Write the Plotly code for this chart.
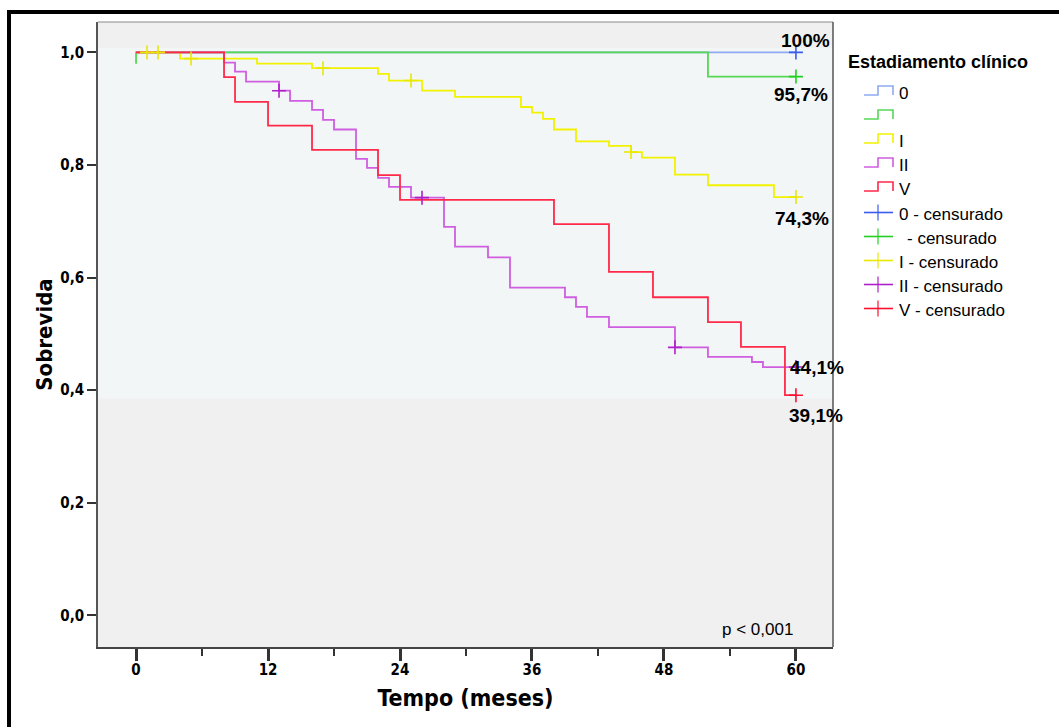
import plotly.graph_objects as go

# ---- Kaplan-Meier survival by clinical stage (months) ----
legend_labels = ["0", "", "I", "II", "V"]
censor_labels = ["0 - censurado", "- censurado", "I - censurado", "II - censurado", "V - censurado"]

# stage 0
t_st0 = [0, 60]
s_st0 = [1.0, 1.0]
c_t_st0 = [60]
c_s_st0 = [1.0]

# stage I
t_st1 = [0, 0, 52, 60]
s_st1 = [0.98, 1.0, 0.957, 0.957]
c_t_st1 = [60]
c_s_st1 = [0.957]

# stage II
t_st2 = [0, 4, 11, 16, 22, 23, 26, 29, 35, 36, 37, 38, 40, 43, 45, 46, 49, 52, 58, 60]
s_st2 = [1.0, 0.989, 0.980, 0.972, 0.962, 0.950, 0.932, 0.921, 0.903, 0.893, 0.882,
         0.863, 0.842, 0.834, 0.823, 0.813, 0.783, 0.764, 0.743, 0.743]
c_t_st2 = [1, 2, 5, 17, 25, 45, 60]
c_s_st2 = [1.0, 1.0, 0.989, 0.972, 0.950, 0.823, 0.743]

# stage III
t_st3 = [0, 8, 9, 10, 13, 14, 16, 17, 18, 20, 21, 22, 23, 25, 28, 29, 32, 34, 39, 40,
         41, 43, 49, 52, 56, 57, 60]
s_st3 = [1.0, 0.982, 0.966, 0.948, 0.932, 0.914, 0.898, 0.880, 0.863, 0.811, 0.795,
         0.777, 0.761, 0.742, 0.690, 0.655, 0.636, 0.582, 0.565, 0.548, 0.530, 0.512,
         0.476, 0.459, 0.450, 0.441, 0.441]
c_t_st3 = [13, 26, 49, 60]
c_s_st3 = [0.932, 0.742, 0.476, 0.441]

# stage IV
t_st4 = [0, 8, 9, 12, 16, 22, 24, 38, 43, 47, 52, 55, 59, 60]
s_st4 = [1.0, 0.956, 0.912, 0.870, 0.827, 0.782, 0.738, 0.695, 0.610, 0.565, 0.521,
         0.477, 0.391, 0.391]
c_t_st4 = [60]
c_s_st4 = [0.391]

# final survival labels, shown at the end of each curve
end_values = [1.0, 0.957, 0.743, 0.441, 0.391]
end_shift = [(10, 12), (5, -18), (6, -21), (21, 0), (20, -20)]

x_ticks = [0, 12, 24, 36, 48, 60]
y_ticks = [0.0, 0.2, 0.4, 0.6, 0.8, 1.0]

line_colors = ["#8eaaf0", "#55d855", "#f2f200", "#cf5ee0", "#ff2a4a"]
mark_colors = ["#3a5cf0", "#22d022", "#e8e800", "#b020c8", "#ff1030"]

curves = [(t_st0, s_st0), (t_st1, s_st1), (t_st2, s_st2), (t_st3, s_st3), (t_st4, s_st4)]
censors = [(c_t_st0, c_s_st0), (c_t_st1, c_s_st1), (c_t_st2, c_s_st2),
           (c_t_st3, c_s_st3), (c_t_st4, c_s_st4)]

FONT = "Liberation Sans, Arial, sans-serif"
NARROW = "DejaVu Sans Condensed, Liberation Sans Narrow, Arial Narrow, Liberation Sans, sans-serif"

W, H = 1059, 727
L, R, T, B = 98, 833, 22, 647          # plot area in pixels
PW, PH = R - L, B - T


def px(x):
    return (x - L) / PW


def py(y):
    return (B - y) / PH


fig = go.Figure()

for (t, s), col in zip(curves, line_colors):
    fig.add_trace(go.Scatter(x=t, y=s, mode="lines", line=dict(color=col, width=1.8, shape="hv"),
                             showlegend=False, hoverinfo="skip"))

for (t, s), col in zip(censors, mark_colors):
    fig.add_trace(go.Scatter(x=t, y=s, mode="markers",
                             marker=dict(symbol="cross-thin", size=10, line=dict(color=col, width=1.6)),
                             showlegend=False, hoverinfo="skip"))

shapes = []
# lighter band behind the curves
shapes.append(dict(type="rect", xref="paper", yref="y", x0=0, x1=1, y0=0.385, y1=1.008,
                   fillcolor="#f2f6f7", line=dict(width=0), layer="below"))
# plot frame (top / right)
shapes.append(dict(type="line", xref="paper", yref="paper", x0=0, x1=1, y0=1, y1=1,
                   line=dict(color="#8a8a8a", width=1)))
shapes.append(dict(type="line", xref="paper", yref="paper", x0=1, x1=1, y0=0, y1=1,
                   line=dict(color="#555555", width=1.5)))
# outer black frame
shapes.append(dict(type="rect", xref="paper", yref="paper", x0=px(9), x1=px(1200),
                   y0=py(900), y1=py(12), line=dict(color="black", width=4),
                   fillcolor="rgba(0,0,0,0)"))

annotations = []
# legend
annotations.append(dict(xref="paper", yref="paper", x=px(846), y=py(62), xanchor="left",
                        yanchor="middle", showarrow=False, text="<b>Estadiamento clínico</b>",
                        font=dict(family=FONT, size=18, color="black")))
for i, (lab, col) in enumerate(zip(legend_labels, line_colors)):
    yc = 91 + 24 * i
    lo, hi = yc + 4, yc - 5
    shapes.append(dict(type="path", xref="paper", yref="paper",
                       path=f"M {px(864)} {py(lo)} L {px(878)} {py(lo)} L {px(878)} {py(hi)} "
                            f"L {px(893)} {py(hi)} L {px(893)} {py(lo)}",
                       line=dict(color=col, width=1.6)))
    if lab:
        annotations.append(dict(xref="paper", yref="paper", x=px(897), y=py(yc + 2),
                                xanchor="left", yanchor="middle", showarrow=False, text=lab,
                                font=dict(family=FONT, size=17, color="black")))
for i, (lab, col) in enumerate(zip(censor_labels, mark_colors)):
    yc = 212.5 + 24 * i
    shapes.append(dict(type="line", xref="paper", yref="paper", x0=px(864), x1=px(893),
                       y0=py(yc), y1=py(yc), line=dict(color=col, width=1.6)))
    shapes.append(dict(type="line", xref="paper", yref="paper", x0=px(878), x1=px(878),
                       y0=py(yc - 8), y1=py(yc + 8), line=dict(color=col, width=1.2)))
    xl = 897 if not lab.startswith("-") else 905
    annotations.append(dict(xref="paper", yref="paper", x=px(xl), y=py(yc + 2),
                            xanchor="left", yanchor="middle", showarrow=False, text=lab,
                            font=dict(family=FONT, size=17, color="black")))

# end-of-curve survival labels
for v, (dx, dy) in zip(end_values, end_shift):
    pct = v * 100
    txt = (f"{pct:.0f}%" if abs(pct - round(pct)) < 1e-9 else f"{pct:.1f}%").replace(".", ",")
    annotations.append(dict(x=60, y=v, xref="x", yref="y", xshift=dx, yshift=dy,
                            xanchor="center", yanchor="middle", showarrow=False,
                            text=f"<b>{txt}</b>", font=dict(family=FONT, size=19, color="black")))

annotations.append(dict(xref="paper", yref="paper", x=px(795), y=py(629), xanchor="right",
                        yanchor="middle", showarrow=False, text="p < 0,001",
                        font=dict(family=FONT, size=17, color="black")))

fig.update_layout(
    width=W, height=H,
    margin=dict(l=L, r=W - R, t=T, b=H - B, pad=0),
    paper_bgcolor="white",
    plot_bgcolor="#f0f0f0",
    separators=",.",
    shapes=shapes,
    annotations=annotations,
    xaxis=dict(range=[-3.46, 63.37], tickvals=x_ticks, ticks="outside", ticklen=12,
               tickwidth=2.5, tickcolor="#333333", showline=True, linecolor="#444444",
               linewidth=2, showgrid=False, zeroline=False, ticklabelstandoff=-4,
               minor=dict(tickvals=[6, 18, 30, 42, 54], ticks="outside", ticklen=7,
                          tickwidth=1.5, tickcolor="#333333"),
               tickfont=dict(family=NARROW, size=15, color="black", weight="bold"),
               title=dict(text="Tempo (meses)", standoff=12,
                          font=dict(family=NARROW, size=23, color="black", weight="bold"))),
    yaxis=dict(range=[-0.0563, 1.054], tickvals=y_ticks, tickformat=".1f", ticks="outside",
               ticklen=9, tickwidth=1.5, tickcolor="#333333", showline=True,
               linecolor="#555555", linewidth=1.5, showgrid=False, zeroline=False,
               tickfont=dict(family=NARROW, size=15, color="black", weight="bold"),
               title=dict(text="Sobrevida", standoff=2,
                          font=dict(family=NARROW, size=22, color="black", weight="bold"))),
)

fig.write_html("out.html")
